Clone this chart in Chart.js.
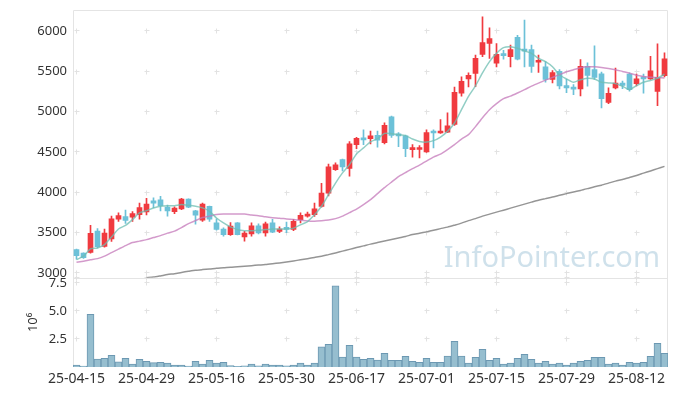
<!DOCTYPE html>
<html>
<head>
<meta charset="utf-8">
<script src="https://cdn.jsdelivr.net/npm/chart.js@4/dist/chart.umd.min.js"></script>
<style>
    html, body { margin: 0; padding: 0; background: #fff; }
</style>
</head>
<body>
<canvas id="chart" width="677" height="396"></canvas>
<script>
const dates = [
    '25-04-15', '25-04-16', '25-04-17', '25-04-18', '25-04-21', '25-04-22', '25-04-23', '25-04-24', '25-04-25', '25-04-28',
    '25-04-29', '25-04-30', '25-05-02', '25-05-07', '25-05-08', '25-05-09', '25-05-12', '25-05-13', '25-05-14', '25-05-15',
    '25-05-16', '25-05-19', '25-05-20', '25-05-21', '25-05-22', '25-05-23', '25-05-26', '25-05-27', '25-05-28', '25-05-29',
    '25-05-30', '25-06-02', '25-06-04', '25-06-05', '25-06-09', '25-06-10', '25-06-11', '25-06-12', '25-06-13', '25-06-16',
    '25-06-17', '25-06-18', '25-06-19', '25-06-20', '25-06-23', '25-06-24', '25-06-25', '25-06-26', '25-06-27', '25-06-30',
    '25-07-01', '25-07-02', '25-07-03', '25-07-04', '25-07-07', '25-07-08', '25-07-09', '25-07-10', '25-07-11', '25-07-14',
    '25-07-15', '25-07-16', '25-07-17', '25-07-18', '25-07-21', '25-07-22', '25-07-23', '25-07-24', '25-07-25', '25-07-28',
    '25-07-29', '25-07-30', '25-07-31', '25-08-01', '25-08-04', '25-08-05', '25-08-06', '25-08-07', '25-08-08', '25-08-11',
    '25-08-12', '25-08-13', '25-08-14', '25-08-18', '25-08-19'
]

const openPrices = [
    3290, 3245, 3255, 3520, 3330, 3420, 3665, 3697, 3690, 3722,
    3756, 3895, 3905, 3815, 3760, 3795, 3915, 3770, 3655, 3825,
    3620, 3545, 3475, 3620, 3445, 3485, 3585, 3495, 3620, 3515,
    3555, 3540, 3660, 3705, 3722, 3825, 3990, 4280, 4405, 4295,
    4590, 4670, 4665, 4705, 4615, 4935, 4725, 4700, 4528, 4530,
    4500, 4755, 4735, 4745, 4840, 5230, 5405, 5475, 5710, 5845,
    5600, 5715, 5680, 5920, 5770, 5770, 5612, 5555, 5400, 5500,
    5322, 5300, 5280, 5560, 5520, 5470, 5115, 5293, 5355, 5465,
    5345, 5425, 5405, 5250, 5445
]
const highPrices = [
    3295, 3250, 3590, 3550, 3545, 3705, 3745, 3780, 3760, 3865,
    3925, 3930, 3950, 3840, 3820, 3925, 3920, 3775, 3865, 3830,
    3670, 3560, 3625, 3625, 3515, 3620, 3610, 3630, 3665, 3570,
    3630, 3665, 3745, 3755, 3865, 4110, 4350, 4365, 4410, 4630,
    4680, 4775, 4760, 4760, 4860, 4945, 4740, 4710, 4590, 4580,
    4775, 4775, 4900, 4985, 5305, 5430, 5480, 5700, 6175, 6040,
    5845, 5760, 5825, 5945, 6135, 5825, 5700, 5620, 5510, 5520,
    5400, 5335, 5645, 5605, 5815, 5490, 5295, 5540, 5380, 5480,
    5465, 5465, 5685, 5840, 5730
]
const lowPrices = [
    3170, 3180, 3245, 3310, 3320, 3390, 3640, 3615, 3640, 3665,
    3720, 3810, 3770, 3705, 3735, 3785, 3810, 3605, 3640, 3640,
    3530, 3455, 3465, 3470, 3395, 3455, 3485, 3455, 3500, 3500,
    3500, 3525, 3620, 3690, 3700, 3815, 3955, 4270, 4265, 4200,
    4540, 4590, 4600, 4560, 4600, 4680, 4565, 4440, 4435, 4425,
    4495, 4550, 4730, 4740, 4830, 5190, 5305, 5310, 5680, 5660,
    5555, 5650, 5555, 5640, 5555, 5485, 5485, 5365, 5355, 5280,
    5235, 5210, 5195, 5315, 5400, 5045, 5100, 5280, 5285, 5255,
    5320, 5230, 5400, 5075, 5430
]
const closePrices = [
    3215, 3190, 3490, 3325, 3495, 3670, 3710, 3652, 3735, 3810,
    3852, 3865, 3835, 3770, 3805, 3915, 3815, 3715, 3855, 3665,
    3540, 3475, 3580, 3475, 3495, 3585, 3495, 3610, 3505, 3545,
    3540, 3640, 3715, 3720, 3795, 3990, 4315, 4340, 4315, 4600,
    4670, 4650, 4700, 4645, 4830, 4705, 4700, 4540, 4545, 4555,
    4740, 4735, 4745, 4825, 5240, 5375, 5450, 5660, 5855, 5905,
    5710, 5695, 5770, 5650, 5750, 5560, 5632, 5400, 5485, 5320,
    5293, 5278, 5560, 5450, 5425, 5160, 5228, 5355, 5325, 5272,
    5405, 5405, 5505, 5425, 5655
]

// moving averages
const ma5 = [
    3165, 3207, 3298, 3310, 3351, 3446, 3545, 3590, 3661, 3743,
    3772, 3806, 3826, 3834, 3834, 3847, 3838, 3826, 3806, 3764,
    3681, 3620, 3570, 3537, 3524, 3524, 3530, 3537, 3545, 3546,
    3546, 3555, 3596, 3637, 3720, 3826, 3970, 4114, 4240, 4343,
    4475, 4550, 4624, 4665, 4730, 4727, 4715, 4702, 4660, 4630,
    4622, 4640, 4685, 4755, 4859, 5024, 5189, 5320, 5480, 5620,
    5722, 5793, 5805, 5785, 5752, 5722, 5660, 5620, 5557, 5454,
    5405, 5363, 5396, 5414, 5405, 5363, 5355, 5347, 5314, 5272,
    5322, 5364, 5387, 5414, 5463
]
const ma20 = [
    3131, 3146, 3162, 3177, 3208, 3252, 3295, 3338, 3376, 3394,
    3413, 3438, 3462, 3493, 3518, 3562, 3611, 3648, 3686, 3704,
    3723, 3729, 3731, 3731, 3729, 3719, 3710, 3695, 3685, 3679,
    3669, 3661, 3654, 3645, 3642, 3648, 3657, 3673, 3704, 3747,
    3791, 3847, 3909, 3983, 4057, 4126, 4194, 4244, 4293, 4337,
    4386, 4436, 4473, 4529, 4590, 4659, 4714, 4814, 4925, 5024,
    5099, 5161, 5192, 5231, 5272, 5316, 5353, 5390, 5424, 5458,
    5495, 5520, 5545, 5557, 5555, 5547, 5535, 5520, 5498, 5477,
    5452, 5436, 5425, 5421, 5417
]
const ma60 = [
    null, null, null, null, null, null, null, null, null, null,
    2940, 2948, 2963, 2979, 2991, 3006, 3020, 3033, 3041, 3048,
    3057, 3063, 3071, 3076, 3083, 3090, 3097, 3103, 3113, 3124,
    3136, 3149, 3162, 3177, 3192, 3206, 3227, 3248, 3270, 3292,
    3314, 3335, 3357, 3376, 3395, 3413, 3433, 3452, 3475, 3491,
    3509, 3529, 3549, 3568, 3592, 3617, 3648, 3673, 3704, 3729,
    3754, 3778, 3803, 3828, 3853, 3878, 3902, 3921, 3940, 3962,
    3983, 4004, 4023, 4045, 4068, 4088, 4113, 4138, 4159, 4184,
    4209, 4237, 4264, 4293, 4321
]

// volume in millions of shares
const volumes = [
    0.18, 0.09, 4.7, 0.71, 0.77, 1.04, 0.45, 0.77, 0.27, 0.68,
    0.5, 0.39, 0.42, 0.36, 0.18, 0.18, 0.09, 0.5, 0.27, 0.6,
    0.36, 0.42, 0.12, 0.06, 0.1, 0.27, 0.1, 0.27, 0.18, 0.18,
    0.1, 0.18, 0.36, 0.18, 0.36, 1.79, 2.02, 7.23, 0.89, 1.93,
    0.89, 0.68, 0.77, 0.62, 1.22, 0.6, 0.6, 0.95, 0.5, 0.42,
    0.77, 0.42, 0.42, 0.98, 2.29, 0.98, 0.36, 0.86, 1.58, 0.6,
    0.77, 0.27, 0.36, 0.77, 1.13, 0.68, 0.36, 0.5, 0.27, 0.36,
    0.18, 0.36, 0.5, 0.6, 0.86, 0.86, 0.27, 0.36, 0.18, 0.42,
    0.36, 0.42, 0.95, 2.11, 1.22
]

const priceTicks = [3000, 3500, 4000, 4500, 5000, 5500, 6000]
const volumeTicks = [2.5, 5, 7.5]
const labelEvery = 10

const upColor = '#f03a3f'
const downColor = '#6cc1d8'
const candleColors = closePrices.map((c, i) => (c >= openPrices[i] ? upColor : downColor))

const fontFamily = '"Noto Sans", "DejaVu Sans", sans-serif'

// grid crosses, frame and watermark
const paneDecor = {
    id: 'paneDecor',
    beforeDatasetsDraw(chart) {
        const { ctx, chartArea } = chart
        const x = chart.scales.x
        const y = chart.scales.y
        const yv = chart.scales.yv
        ctx.save()

        ctx.font = '29px ' + fontFamily
        ctx.fillStyle = 'rgba(175, 205, 222, 0.6)'
        ctx.textAlign = 'right'
        ctx.textBaseline = 'alphabetic'
        ctx.fillText('InfoPointer.com', chartArea.right - 8, y.bottom - 11)

        ctx.strokeStyle = '#e4e4e4'
        ctx.lineWidth = 1
        ctx.beginPath()
        ctx.moveTo(chartArea.left + 0.5, chartArea.bottom)
        ctx.lineTo(chartArea.left + 0.5, chartArea.top + 0.5)
        ctx.lineTo(chartArea.right - 0.5, chartArea.top + 0.5)
        ctx.lineTo(chartArea.right - 0.5, chartArea.bottom)
        ctx.moveTo(chartArea.left, Math.round(y.bottom) + 0.5)
        ctx.lineTo(chartArea.right, Math.round(y.bottom) + 0.5)
        ctx.stroke()

        const xs = dates.map((d, i) => i).filter((i) => i % labelEvery === 0).map((i) => x.getPixelForValue(i))
        const ys = priceTicks.map((v) => y.getPixelForValue(v))
            .concat(volumeTicks.map((v) => yv.getPixelForValue(v)))
            .concat([y.bottom])
        ctx.strokeStyle = '#e2e2e2'
        ctx.beginPath()
        xs.forEach((px) => {
            ys.forEach((py) => {
                const cx = Math.round(px - 0.5) + 0.5
                const cy = Math.round(py - 0.5) + 0.5
                ctx.moveTo(cx - 2, cy)
                ctx.lineTo(cx + 3, cy)
                ctx.moveTo(cx, cy - 2)
                ctx.lineTo(cx, cy + 3)
            })
        })
        ctx.stroke()
        ctx.restore()
    }
}

const noPad = (scale) => {
    scale.width = 73
    scale.paddingTop = 0
    scale.paddingBottom = 0
}

const ctx = document.getElementById('chart')
const chart = new Chart(ctx, {
    type: 'bar',
    data: {
        labels: dates,
        datasets: [
            {
                type: 'line',
                data: ma5,
                yAxisID: 'y',
                borderColor: 'rgba(110, 190, 178, 0.75)',
                borderWidth: 1.5,
                pointRadius: 0,
                tension: 0.2
            },
            {
                type: 'line',
                data: ma20,
                yAxisID: 'y',
                borderColor: 'rgba(196, 120, 186, 0.75)',
                borderWidth: 1.5,
                pointRadius: 0,
                tension: 0.2
            },
            {
                type: 'line',
                data: ma60,
                yAxisID: 'y',
                borderColor: 'rgba(130, 130, 130, 0.85)',
                borderWidth: 1.5,
                pointRadius: 0,
                tension: 0.2
            },
            {
                // candle bodies
                data: openPrices.map((o, i) => [o, closePrices[i]]),
                yAxisID: 'y',
                backgroundColor: candleColors,
                barThickness: 5,
                grouped: false,
                borderSkipped: false,
                minBarLength: 2
            },
            {
                // wicks
                data: lowPrices.map((l, i) => [l, highPrices[i]]),
                yAxisID: 'y',
                backgroundColor: candleColors,
                barThickness: 1,
                grouped: false,
                borderSkipped: false
            },
            {
                data: volumes,
                yAxisID: 'yv',
                backgroundColor: 'rgba(150, 190, 207, 1)',
                borderColor: 'rgba(108, 152, 178, 1)',
                borderWidth: 1,
                barPercentage: 1,
                categoryPercentage: 1,
                grouped: false
            }
        ]
    },
    options: {
        responsive: false,
        animation: false,
        layout: {
            padding: { left: 0, right: 9, top: 10, bottom: 0 }
        },
        plugins: {
            legend: { display: false },
            tooltip: { enabled: false }
        },
        scales: {
            x: {
                type: 'category',
                offset: true,
                grid: { display: false, drawTicks: false },
                border: { display: false },
                ticks: {
                    autoSkip: false,
                    maxRotation: 0,
                    padding: 4,
                    color: '#333',
                    font: { family: fontFamily, size: 14 },
                    callback: (val, idx) => (idx % labelEvery === 0 ? dates[idx] : '')
                },
                afterFit: (scale) => { scale.height = 29 }
            },
            yv: {
                position: 'left',
                stack: 'pane',
                stackWeight: 1,
                min: 0,
                max: 7.95,
                grid: { display: false, drawTicks: false },
                border: { display: false },
                ticks: {
                    padding: 6,
                    color: '#333',
                    font: { family: fontFamily, size: 13 },
                    callback: (v) => v.toFixed(1)
                },
                afterBuildTicks: (scale) => {
                    scale.ticks = volumeTicks.map((v) => ({ value: v }))
                },
                title: {
                    display: true,
                    text: '10⁶',
                    color: '#333',
                    font: { family: fontFamily, size: 13 },
                    padding: { top: 25, bottom: 0 }
                },
                afterFit: noPad
            },
            y: {
                position: 'left',
                stack: 'pane',
                stackWeight: 3,
                min: 2940,
                max: 6260,
                grid: { display: false, drawTicks: false },
                border: { display: false },
                ticks: {
                    padding: 6,
                    color: '#333',
                    font: { family: fontFamily, size: 13 },
                    callback: (v) => String(v)
                },
                afterBuildTicks: (scale) => {
                    scale.ticks = priceTicks.map((v) => ({ value: v }))
                },
                afterFit: noPad
            }
        }
    },
    plugins: [paneDecor]
})
</script>
</body>
</html>
